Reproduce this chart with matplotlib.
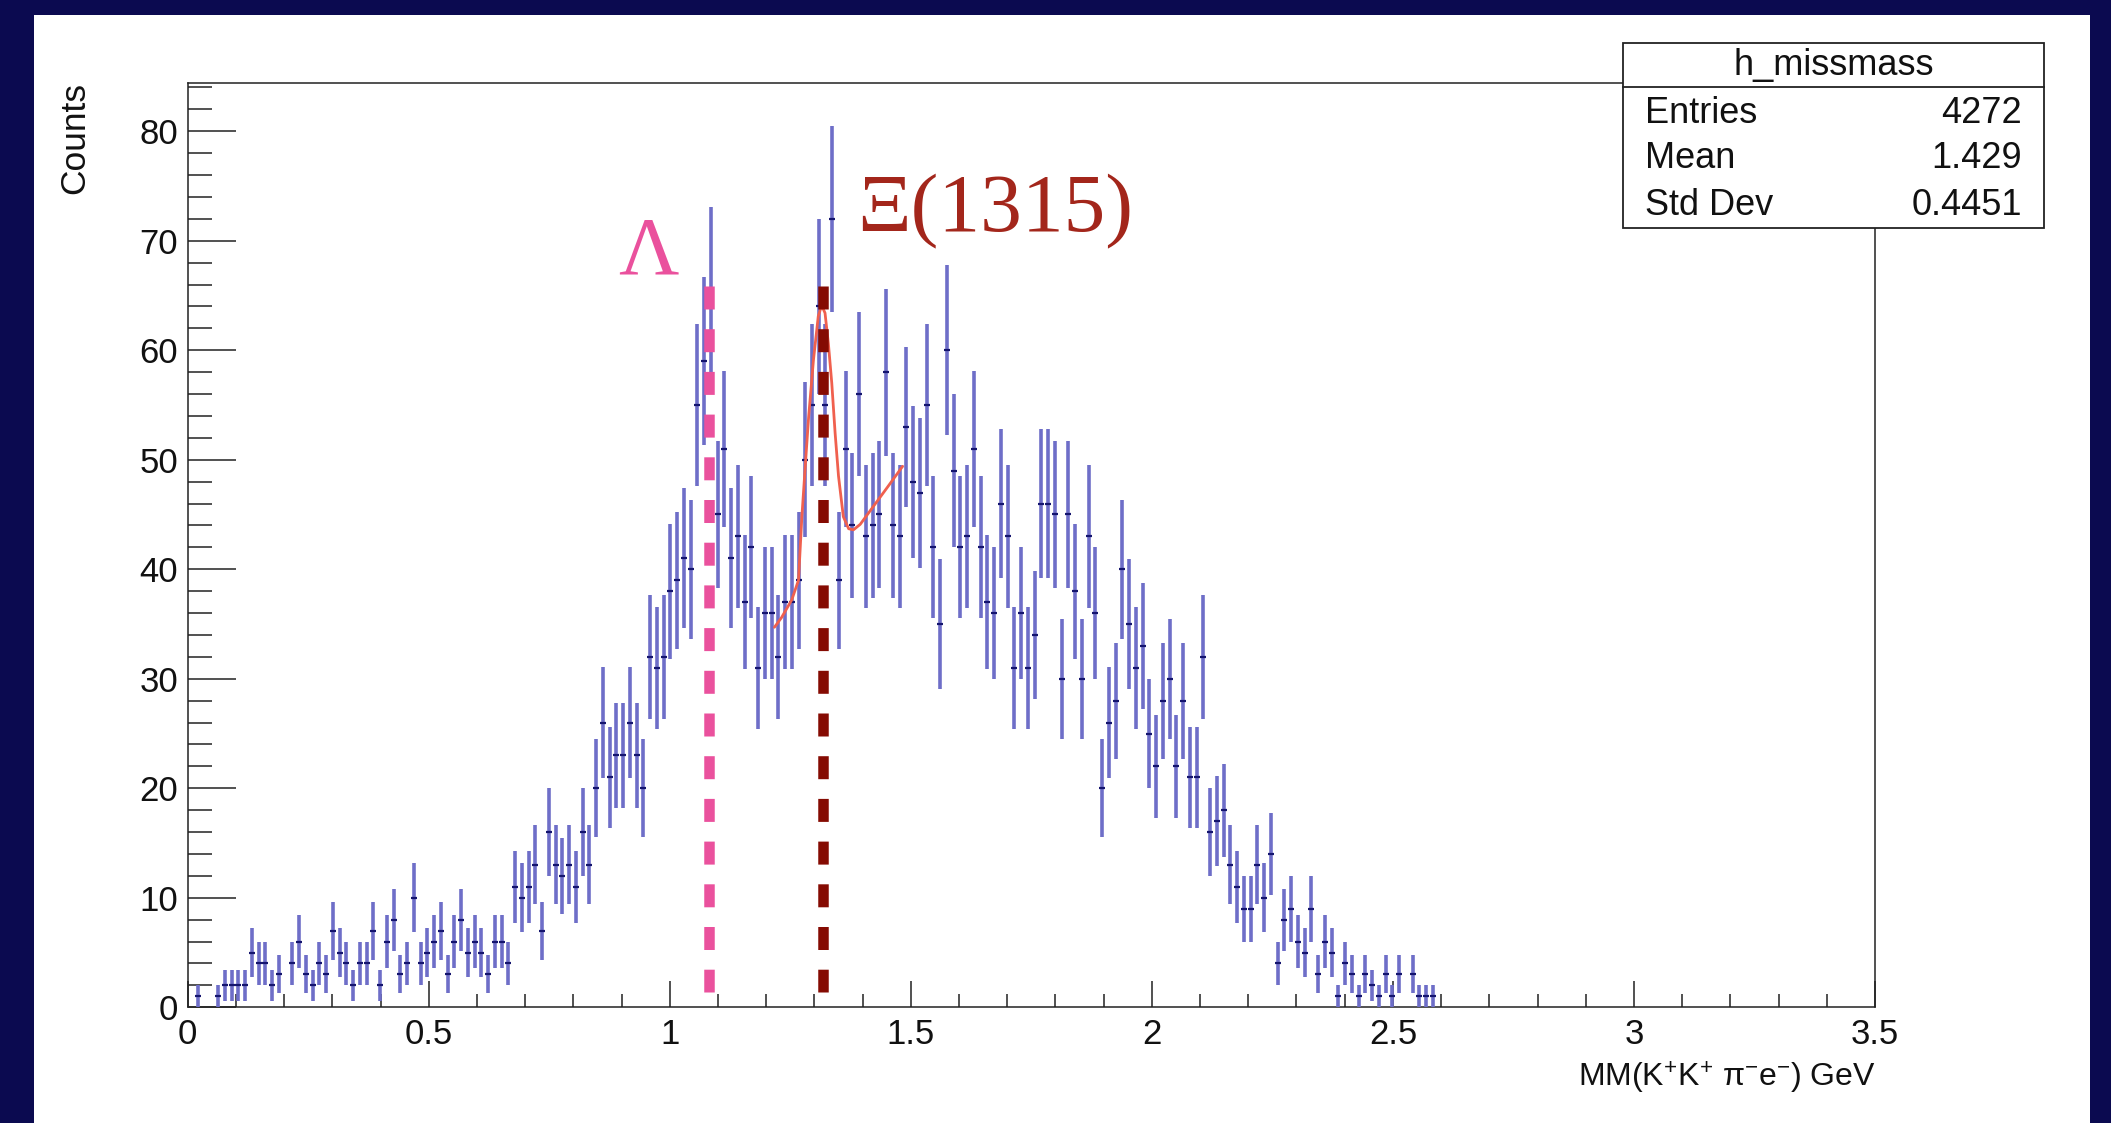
import numpy as np
import matplotlib
matplotlib.use("Agg")
import matplotlib.pyplot as plt
from matplotlib.patches import Rectangle
from matplotlib.lines import Line2D
from matplotlib.ticker import MultipleLocator, FuncFormatter

# ---------------- data ----------------
bin_width = 0.014          # GeV, 250 bins over 0..3.5
counts = [
    0, 1, 0, 0, 1, 2, 2, 2, 2, 5, 4, 4, 2, 3, 0, 4, 6, 3, 2, 4,
    3, 7, 5, 4, 2, 4, 4, 7, 2, 6, 8, 3, 4, 10, 4, 5, 6, 7, 3, 6,
    8, 5, 6, 5, 3, 6, 6, 4, 11, 10, 11, 13, 7, 16, 13, 12, 13, 11, 16, 13,
    20, 26, 21, 23, 23, 26, 23, 20, 32, 31, 32, 38, 39, 41, 40, 55, 59, 65, 45, 51,
    41, 43, 37, 42, 31, 36, 36, 32, 37, 37, 39, 50, 55, 64, 55, 72, 39, 51, 44, 56,
    43, 44, 45, 58, 44, 43, 53, 48, 47, 55, 42, 35, 60, 49, 42, 43, 51, 42, 37, 36,
    46, 43, 31, 36, 31, 34, 46, 46, 45, 30, 45, 38, 30, 43, 36, 20, 26, 28, 40, 35,
    31, 33, 25, 22, 28, 30, 22, 28, 21, 21, 32, 16, 17, 18, 13, 11, 9, 9, 13, 10,
    14, 4, 8, 9, 6, 5, 9, 3, 6, 5, 1, 4, 3, 1, 3, 2, 1, 3, 1, 3,
    0, 3, 1, 1, 1,
]

# fitted curve
fit_x = [1.217, 1.232, 1.253, 1.267, 1.274, 1.281, 1.288, 1.298, 1.308, 1.315,
         1.322, 1.329, 1.336, 1.343, 1.350, 1.360, 1.371, 1.381, 1.395, 1.420,
         1.450, 1.483]
fit_y = [34.7, 35.6, 37.2, 39.0, 44.8, 49.4, 53.9, 59.1, 63.1, 64.1,
         63.4, 60.6, 57.0, 52.4, 48.5, 44.8, 43.7, 43.6, 44.1, 45.6,
         47.4, 49.4]

lambda_line_x = 1.082
xi_line_x = 1.318
marker_line_top = 65.9
marker_line_bottom = 1.4

stats_title = "h_missmass"
stats_labels = ["Entries", "Mean", "Std Dev"]
stats_values = ["4272", "1.429", "0.4451"]

x_label = r"MM(K$^{+}$K$^{+}$ $\mathrm{\pi}^{-}$e$^{-}$) GeV"
y_label = "Counts"

# ---------------- style ----------------
plt.rcParams["font.family"] = ["Liberation Sans", "DejaVu Sans"]
plt.rcParams["mathtext.fontset"] = "custom"
plt.rcParams["mathtext.rm"] = "Liberation Sans"
plt.rcParams["mathtext.it"] = "Liberation Sans:italic"
plt.rcParams["mathtext.sf"] = "Liberation Sans"

W, H = 2111, 1123


def fx(px):
    return px / W


def fy(py):
    return 1 - py / H


fig = plt.figure(figsize=(W / 100, H / 100), dpi=100)
fig.patch.set_facecolor("#0b0a50")
fig.add_artist(Rectangle((fx(34), 0), fx(2090) - fx(34), fy(15),
                         transform=fig.transFigure, facecolor="white",
                         edgecolor="none", zorder=-1))

ax = fig.add_axes([fx(187.7), fy(1007.3), fx(1875) - fx(187.7), fy(83) - fy(1007.3)])
ax.set_facecolor("white")

c = np.array(counts, dtype=float)
xc = (np.arange(len(c)) + 0.5) * bin_width
m = c > 0
ax.errorbar(xc[m], c[m], yerr=np.sqrt(c[m]), fmt="none", ecolor="#6e6ec8",
            elinewidth=2.6, capsize=0, zorder=3)
ax.plot(xc[m], c[m], linestyle="none", marker="_", markersize=4,
        markeredgewidth=1.6, color="#15156e", zorder=4)

# fit curve
ax.plot(fit_x, fit_y, color="#f0604e", lw=2.0, zorder=5, solid_capstyle="round")

# dashed markers
lw_px = 10.5
lw_pt = lw_px * 0.72
dash = (23 / lw_px, 19.7 / lw_px)
ax.plot([lambda_line_x, lambda_line_x], [marker_line_top, marker_line_bottom],
        color="#ea519d", lw=lw_pt, dashes=dash, dash_capstyle="butt", zorder=6)
ax.plot([xi_line_x, xi_line_x], [marker_line_top, marker_line_bottom],
        color="#850b02", lw=lw_pt, dashes=dash, dash_capstyle="butt", zorder=6)

ax.set_xlim(0, 3.5)
ax.set_ylim(0, 84.4)

ax.xaxis.set_major_locator(MultipleLocator(0.5))
ax.xaxis.set_minor_locator(MultipleLocator(0.1))
ax.yaxis.set_major_locator(MultipleLocator(10))
ax.yaxis.set_minor_locator(MultipleLocator(2))
ax.xaxis.set_major_formatter(FuncFormatter(lambda v, p: f"{v:g}"))
ax.yaxis.set_major_formatter(FuncFormatter(lambda v, p: f"{v:g}"))

tick_col = "#222222"
ax.tick_params(axis="x", which="major", direction="in", length=18.7, width=1.1,
               color=tick_col, labelsize=25, pad=8, labelcolor="#111111")
ax.tick_params(axis="x", which="minor", direction="in", length=9.4, width=1.1,
               color=tick_col)
ax.tick_params(axis="y", which="major", direction="in", length=34.6, width=1.1,
               color=tick_col, labelsize=25, pad=7, labelcolor="#111111")
ax.tick_params(axis="y", which="minor", direction="in", length=17.3, width=1.1,
               color=tick_col)
for s in ax.spines.values():
    s.set_linewidth(1.1)
    s.set_color(tick_col)

# axis titles (ROOT style: aligned to axis ends)
fig.text(fx(1876), fy(1087), x_label, ha="right", va="baseline", fontsize=23,
         color="#111111")
fig.text(fx(75), fy(82), y_label, rotation=90, ha="center", va="top",
         fontsize=25.5, color="#111111")

# annotations
fig.text(fx(648), fy(273), "Λ", ha="center", va="baseline", fontsize=60,
         family=["Liberation Serif", "DejaVu Serif"], color="#ea519d", zorder=7)
fig.text(fx(857), fy(231), "Ξ(1315)", ha="left", va="baseline", fontsize=60,
         family=["Liberation Serif", "DejaVu Serif"], color="#a3261b", zorder=7)

# stats box
bx0, bx1, by0, by1 = 1622.7, 2044.3, 42.7, 228.3
fig.add_artist(Rectangle((fx(bx0), fy(by1)), fx(bx1) - fx(bx0), fy(by0) - fy(by1),
                         transform=fig.transFigure, facecolor="white",
                         edgecolor="#222222", lw=1.3, zorder=8))
fig.add_artist(Line2D([fx(bx0), fx(bx1)], [fy(86.7), fy(86.7)],
                      transform=fig.transFigure, color="#222222", lw=1.3, zorder=9))
fig.text(fx((bx0 + bx1) / 2), fy(65), stats_title, ha="center", va="center",
         fontsize=26, color="#111111", zorder=10)
row_y = [113.3, 158.3, 205.7]
for lab, val, yy in zip(stats_labels, stats_values, row_y):
    fig.text(fx(1645), fy(yy), lab, ha="left", va="center", fontsize=26,
             color="#111111", zorder=10)
    fig.text(fx(2021.7), fy(yy), val, ha="right", va="center", fontsize=26,
             color="#111111", zorder=10)

fig.savefig("out.png", dpi=100, facecolor=fig.get_facecolor())
